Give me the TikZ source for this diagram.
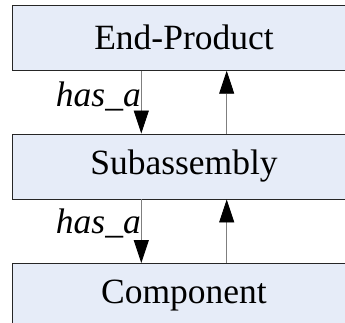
\documentclass[tikz,border=0pt]{standalone}
\usepackage{fontspec}
\setmainfont{Liberation Serif}
\usetikzlibrary{arrows.meta}
\definecolor{boxfill}{HTML}{E6ECF8}
\definecolor{connline}{HTML}{7F7F7F}
\tikzset{
  block/.style={draw=black!85, line width=0.9pt, fill=boxfill, minimum width=344pt, minimum height=65pt, inner sep=0pt, font=\fontsize{35.5}{40}\selectfont},
  conn/.style={draw=connline, line width=0.9pt, -{Triangle[length=23pt,width=15pt,fill=black,color=black]}},
  rel/.style={font=\fontsize{35.5}{40}\selectfont\itshape, inner sep=0pt, anchor=base east}
}
\begin{document}
\begin{tikzpicture}[x=1pt,y=1pt]
\useasboundingbox (0,-323) rectangle (345,0);
\begin{scope}
\clip (0,-323) rectangle (345,0);
\node[block] (top) at (184,-37.8) {End-Product};
\node[block] (mid) at (184,-166.5) {Subassembly};
\node[block] (bot) at (184,-296) {Component};
\coordinate (dx) at (141.3,0);
\coordinate (ux) at (226.7,0);
\draw[conn] (top.south -| dx) -- (mid.north -| dx);
\draw[conn] (mid.north -| ux) -- (top.south -| ux);
\draw[conn] (mid.south -| dx) -- (bot.north -| dx);
\draw[conn] (bot.north -| ux) -- (mid.south -| ux);
\node[rel] (l1) at (141,-107) {has\_a};
\node[rel] (l2) at (141,-233) {has\_a};
\end{scope}
\end{tikzpicture}
\end{document}
